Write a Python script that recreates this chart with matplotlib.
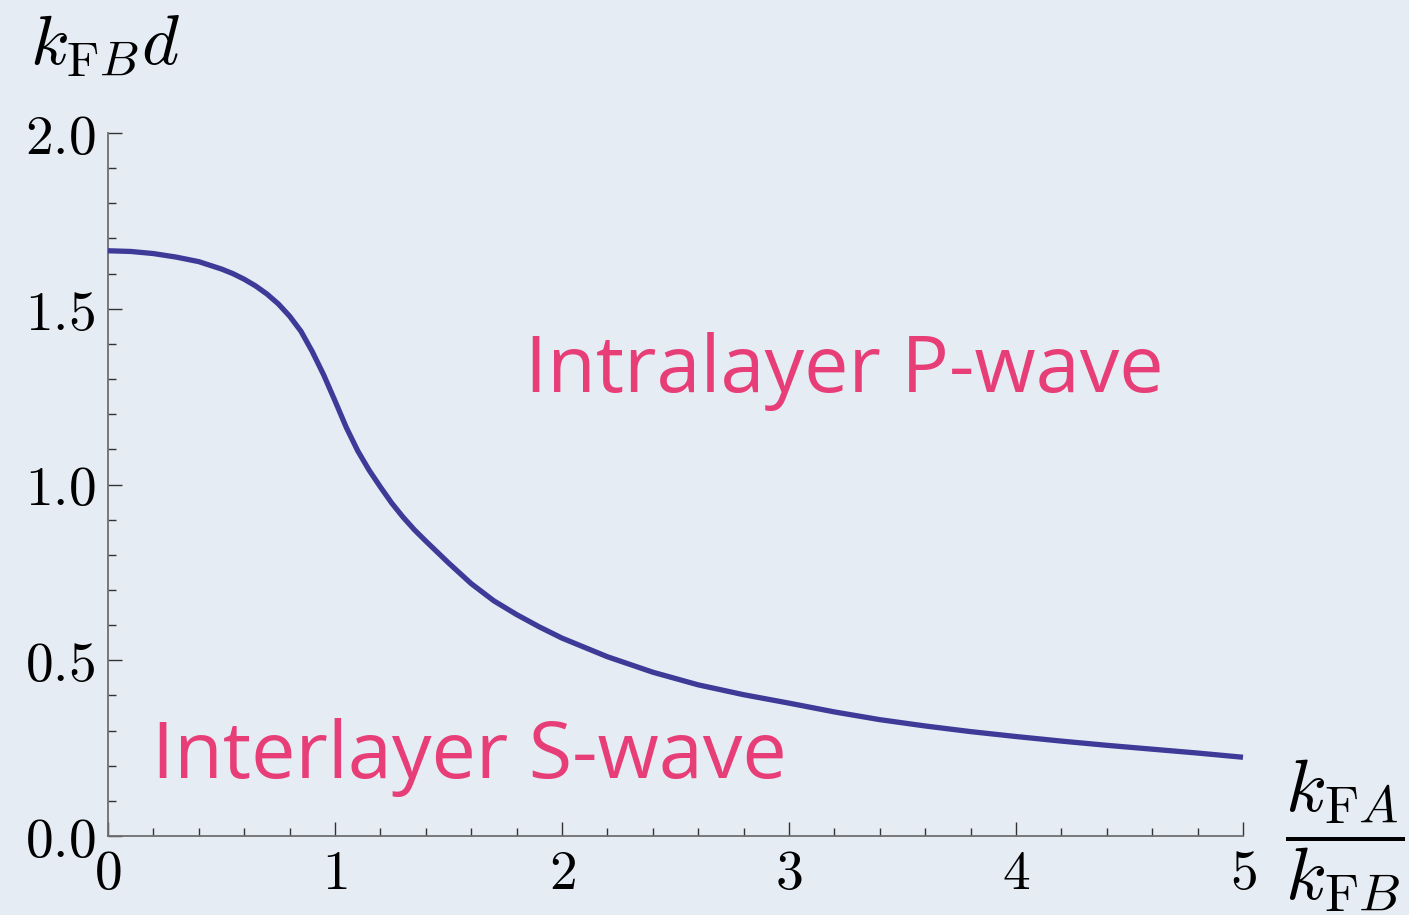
import matplotlib
matplotlib.use("Agg")
import matplotlib.pyplot as plt
from matplotlib.ticker import MultipleLocator, FuncFormatter

plt.rcParams["mathtext.fontset"] = "cm"

# Critical k_FB d separating the two pairing regimes, versus k_FA / k_FB
ratio = [0.0, 0.1, 0.2, 0.3, 0.4, 0.5, 0.55, 0.6, 0.65, 0.7, 0.75, 0.8,
         0.85, 0.9, 0.95, 1.0, 1.05, 1.1, 1.15, 1.2, 1.25, 1.3, 1.35, 1.4,
         1.45, 1.5, 1.6, 1.7, 1.8, 1.9, 2.0, 2.2, 2.4, 2.6, 2.8, 3.0, 3.2,
         3.4, 3.6, 3.8, 4.0, 4.2, 4.4, 4.6, 4.8, 5.0]
kd = [1.665, 1.663, 1.657, 1.647, 1.634, 1.613, 1.600, 1.584, 1.565, 1.542,
      1.514, 1.479, 1.436, 1.378, 1.312, 1.238, 1.162, 1.096, 1.041, 0.993,
      0.947, 0.907, 0.871, 0.839, 0.808, 0.777, 0.718, 0.669, 0.630, 0.595,
      0.563, 0.510, 0.466, 0.430, 0.402, 0.378, 0.353, 0.331, 0.313, 0.297,
      0.283, 0.270, 0.258, 0.247, 0.236, 0.224]

region_labels = ["Intralayer P-wave", "Interlayer S-wave"]
region_pos = [(1.835, 1.263), (0.195, 0.165)]

bg = "#e5ecf4"
curve_color = "#3d3a98"
label_color = "#e83e78"

fig = plt.figure(figsize=(14.09, 9.15), dpi=100, facecolor=bg)
ax = fig.add_axes([108 / 1409, 1 - 836 / 915, (1243 - 108) / 1409, (836 - 133) / 915])
ax.set_facecolor(bg)

ax.plot(ratio, kd, color=curve_color, lw=3.8, solid_capstyle="butt",
        solid_joinstyle="round", clip_on=False, zorder=3)

ax.set_xlim(0, 5)
ax.set_ylim(0, 2.0)

for side in ("top", "right"):
    ax.spines[side].set_visible(False)
for side in ("left", "bottom"):
    ax.spines[side].set_color("#6e6e6e")
    ax.spines[side].set_linewidth(1.3)

ax.xaxis.set_major_locator(MultipleLocator(1))
ax.xaxis.set_minor_locator(MultipleLocator(0.2))
ax.yaxis.set_major_locator(MultipleLocator(0.5))
ax.yaxis.set_minor_locator(MultipleLocator(0.1))
ax.xaxis.set_major_formatter(FuncFormatter(lambda v, p: f"${v:.0f}$"))
ax.yaxis.set_major_formatter(FuncFormatter(lambda v, p: f"${v:.1f}$"))

ax.tick_params(which="both", direction="in", color="#333333", width=1.0)
ax.tick_params(which="major", length=10)
ax.tick_params(which="minor", length=5.5)
ax.tick_params(axis="x", which="major", labelsize=40, pad=8)
ax.tick_params(axis="y", which="major", labelsize=40, pad=9)

for text, (x, y) in zip(region_labels, region_pos):
    ax.text(x, y, text, color=label_color, fontsize=57, family="Open Sans",
            ha="left", va="baseline")

fig.text(30 / 1409, 1 - 65 / 915, r"$k_{\mathrm{F}B}d$", fontsize=51,
         ha="left", va="baseline")
fig.text(1345 / 1409, 1 - 836 / 915, r"$\dfrac{k_{\mathrm{F}A}}{k_{\mathrm{F}B}}$",
         fontsize=54, ha="center", va="center")

fig.savefig("out.png", dpi=100, facecolor=bg)
